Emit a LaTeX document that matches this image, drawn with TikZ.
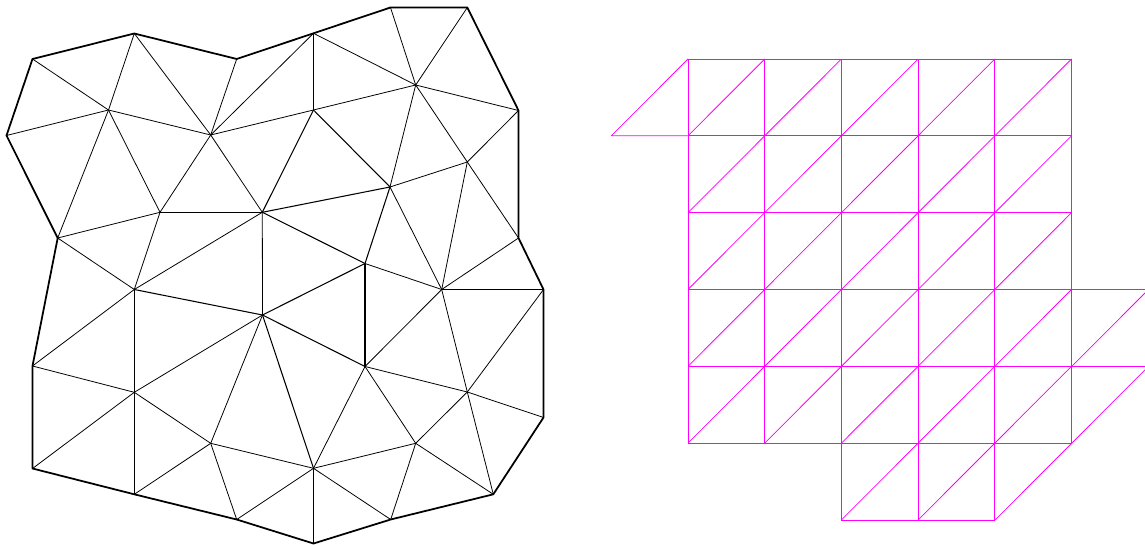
\documentclass[tikz,border=0pt]{standalone}
\definecolor{mag}{RGB}{255,0,255}
\begin{document}
\begin{tikzpicture}[x=0.02cm,y=-0.02cm,
  bnd/.style={line width=1pt,line join=round},
  edg/.style={line width=0.45pt},
  midedg/.style={line width=0.6pt},
  mg/.style={mag,line width=0.45pt}]
\useasboundingbox (0,0) rectangle (1145,544);
% boundary vertices
\coordinate (B1) at (32.5,59);
\coordinate (B2) at (134.3,33.5);
\coordinate (B3) at (236.7,59);
\coordinate (B4) at (313.5,33.3);
\coordinate (B5) at (390.5,7.5);
\coordinate (B6) at (467.3,7.5);
\coordinate (B7) at (518.5,110.5);
\coordinate (B8) at (518.5,238);
\coordinate (B9) at (543.5,289.5);
\coordinate (B10) at (543.5,417.5);
\coordinate (B11) at (493.3,494.3);
\coordinate (B12) at (390.7,519.5);
\coordinate (B13) at (313.5,543.5);
\coordinate (B14) at (236.7,519.5);
\coordinate (B15) at (134.3,494.3);
\coordinate (B16) at (32.5,468.5);
\coordinate (B17) at (32.5,366);
\coordinate (B18) at (57.7,238);
\coordinate (B19) at (6.5,135.5);
% interior vertices
\coordinate (I1) at (108.5,110);
\coordinate (I2) at (210.7,135);
\coordinate (I3) at (313.5,110);
\coordinate (I4) at (415.7,85);
\coordinate (I5) at (467.3,162);
\coordinate (I6) at (390,187);
\coordinate (I7) at (262.3,212.3);
\coordinate (I8) at (160,212.3);
\coordinate (I9) at (134.3,289.5);
\coordinate (I10) at (262.5,315);
\coordinate (I11) at (365,263.5);
\coordinate (I12) at (441.7,289.5);
\coordinate (I13) at (365,366.5);
\coordinate (I14) at (467.3,392);
\coordinate (I15) at (415.7,443.3);
\coordinate (I16) at (313.5,468.3);
\coordinate (I17) at (210.7,443.3);
\coordinate (I18) at (134.3,392.3);
% interior edges
\foreach \a/\b in {B1/I1,B2/I1,B2/I2,B19/I1,I1/I2,I1/I8,I1/B18,I2/I8,I2/B3,I2/I7,I8/I7,I8/B18,I2/B4,I2/I3,
  B4/I3,B4/I4,B5/I4,B6/I4,I4/B7,I4/I3,I4/I6,I4/I5,I5/B7,I5/I6,I5/B8,I6/I12,I5/I12,B8/I12,I11/I12,
  B18/I9,I8/I9,I7/I9,I7/I10,B17/I9,B17/I18,I9/I18,I18/I10,I18/B16,I18/B15,I18/I17,I17/B15,I17/B14,I17/I10,I17/I16,
  I12/B9,I12/I13,I12/I14,B9/I14,I13/I14,I13/I15,I13/I16,I14/B10,I14/I15,I14/B11,I15/B11,I15/I16,I15/B12,I16/B12,I16/B13,I16/B14}
  \draw[edg] (\a) -- (\b);
\foreach \a/\b in {I3/I7,I3/I6,I6/I7,I6/I11,I7/I11,I11/I10,I11/I13,I10/I16,I9/I10,I10/I13}
  \draw[midedg] (\a) -- (\b);
% boundary
\draw[bnd] (B1)--(B2)--(B3)--(B4)--(B5)--(B6)--(B7)--(B8)--(B9)--(B10)--(B11)--(B12)--(B13)--(B14)--(B15)--(B16)--(B17)--(B18)--(B19)--cycle;
% magenta grid mesh
\foreach \i in {1,...,5}
  \foreach \j in {0,...,4} {
    \draw[mg] ({611.3+76.7*\i},{59+76.83*\j}) rectangle ++(76.7,76.83);
    \draw[mg] ({611.3+76.7*\i},{59+76.83*(\j+1)}) -- ++(76.7,-76.83);
  }
\foreach \i in {3,4} {
    \draw[mg] ({611.3+76.7*\i},{59+76.83*5}) rectangle ++(76.7,76.83);
    \draw[mg] ({611.3+76.7*\i},{59+76.83*6}) -- ++(76.7,-76.83);
}
\coordinate (Ga) at (611.3,135.83);
\coordinate (Gb) at (688,59);
\coordinate (Gc) at (688,135.83);
\draw[mg] (Gc) -- (Ga) -- (Gb);
\coordinate (Gd) at (995.1,519.98);
\coordinate (Ge) at (1071.8,443.15);
\draw[mg] (Gd) -- (Ge);
\coordinate (Gf) at (1071.8,289.49);
\coordinate (Gg) at (1148.5,289.49);
\coordinate (Gh) at (1071.8,366.32);
\coordinate (Gi) at (1148.5,366.32);
\coordinate (Gj) at (1071.8,443.15);
\draw[mg] (Gf) -- (Gg);
\draw[mg] (Gh) -- (Gg);
\draw[mg] (Gh) -- (Gi);
\draw[mg] (Gj) -- (Gi);
\end{tikzpicture}
\end{document}
